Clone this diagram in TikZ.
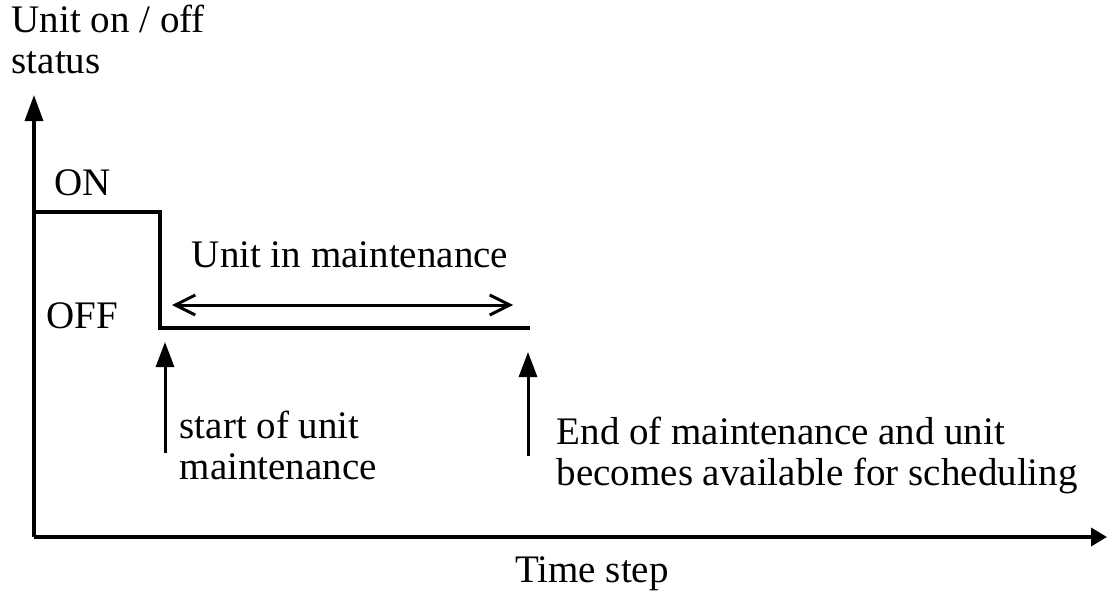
\documentclass[tikz,border=0pt]{standalone}
\usepackage{fontspec}
\setmainfont{Liberation Serif}
\usetikzlibrary{arrows.meta,positioning}

\begin{document}
\begin{tikzpicture}[x=1pt, y=-1pt, line width=3.5pt,
    lbl/.style={inner sep=0pt, font=\fontsize{39}{41}\selectfont, align=left},
    axis/.style={-{Triangle[length=26pt,width=18pt]}},
    event/.style={-{Triangle[length=25pt,width=18pt]}, line width=3pt},
    span/.style={{Straight Barb[length=20pt,width=20pt,line width=3pt]}-{Straight Barb[length=20pt,width=20pt,line width=3pt]}, line width=3pt}]
    \useasboundingbox (0,0) rectangle (1107,591);
    % axes
    \coordinate (o) at (34,537);
    \coordinate (ytop) at (34,95);
    \coordinate (xend) at (1107,537);
    \draw[axis] (o) -- (ytop);
    \draw[-{Triangle[length=16pt,width=18pt]}] (o) -- (xend);
    \node[lbl, anchor=base west] (ylabel) at (10,74) {Unit on / off\\status};
    \node[lbl, anchor=base] (xlabel) at (592,582) {Time step};
    % status
    \coordinate (on0) at (38,212);
    \coordinate (on1) at (160,212);
    \coordinate (off0) at (160,328);
    \coordinate (off1) at (528,328);
    \draw[line cap=rect] (on0) -- (on1) -- (off0) -- (off1);
    \node[lbl, anchor=base west] (onlbl) at (53,195) {ON};
    \node[lbl, anchor=base west] (offlbl) at (45,328) {OFF};
    % maintenance period
    \coordinate (m0) at (172,305);
    \coordinate (m1) at (513,305);
    \draw[span] (m0) -- (m1);
    \node[lbl, anchor=base] (mlbl) at (350,267) {Unit in maintenance};
    % events
    \coordinate (s0) at (165,453);
    \coordinate (s1) at (165,342);
    \coordinate (e0) at (528,456);
    \coordinate (e1) at (528,352);
    \draw[event] (s0) -- (s1);
    \draw[event] (e0) -- (e1);
    \node[lbl, anchor=base west] (slbl) at (178,479) {start of unit\\maintenance};
    \node[lbl, anchor=base west] (elbl) at (555,485) {End of maintenance and unit\\becomes available for scheduling};
\end{tikzpicture}
\end{document}
